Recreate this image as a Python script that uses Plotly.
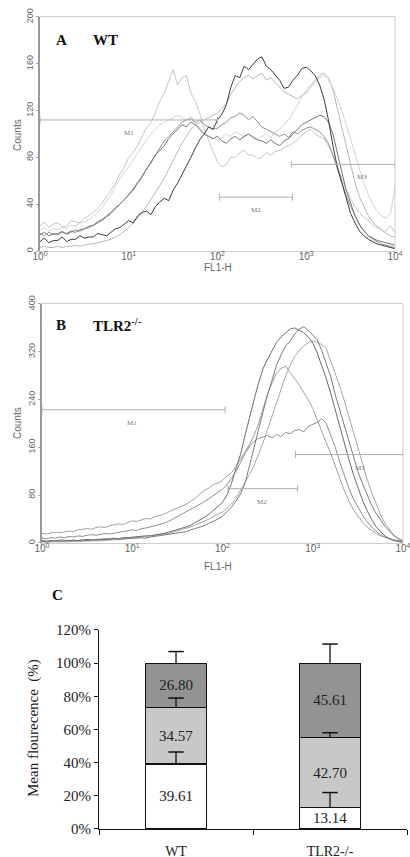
import math
import plotly.graph_objects as go

# ---------------- data ----------------
# FL1-H channel positions (log10 of fluorescence), shared by all histograms
fl1_exp = [0.00,0.05,0.10,0.15,0.20,0.25,0.30,0.35,0.40,0.45,
           0.50,0.55,0.60,0.65,0.70,0.75,0.80,0.85,0.90,0.95,
           1.00,1.05,1.10,1.15,1.20,1.25,1.30,1.35,1.40,1.45,
           1.50,1.55,1.60,1.65,1.70,1.75,1.80,1.85,1.90,1.95,
           2.00,2.05,2.10,2.15,2.20,2.25,2.30,2.35,2.40,2.45,
           2.50,2.55,2.60,2.65,2.70,2.75,2.80,2.85,2.90,2.95,
           3.00,3.05,3.10,3.15,3.20,3.25,3.30,3.35,3.40,3.45,
           3.50,3.55,3.60,3.65,3.70,3.75,3.80,3.85,3.90,3.95,
           4.00]

# Panel A (WT) counts
wt_1 = [8,11,7,9,9,12,8,10,10,13, 11,12,12,15,14,13,16,19,20,23, 26,24,30,33,34,31,38,42,45,43,
        52,58,65,72,80,88,95,100,106,104, 112,117,125,140,150,148,158,155,160,164,
        166,158,155,150,146,139,140,146,150,156, 157,154,150,142,130,112,90,72,58,44,
        32,24,17,13,10,8,6,5,4,3, 2]
wt_2 = [22,25,20,23,24,21,21,26,25,24, 28,30,33,36,41,46,52,58,66,72, 80,84,90,98,105,110,118,128,135,145,
        155,142,148,150,135,128,118,104,95,85, 76,72,74,80,80,84,86,82,82,79,
        80,84,82,85,86,88,90,92,95,99, 102,104,100,98,96,90,82,72,62,52,
        45,38,33,29,26,22,20,18,17,22, 15]
wt_3 = [3,4,3,3,4,3,4,4,5,4, 5,6,6,7,8,9,10,12,14,17, 20,24,28,33,38,44,50,56,62,70,
        78,85,92,98,104,108,110,112,114,116, 118,122,126,134,140,145,148,150,147,150,
        152,146,148,144,140,136,134,132,130,133, 135,140,145,150,152,148,138,122,104,88,
        72,58,46,38,30,25,21,18,15,13, 12]
wt_4 = [15,13,16,14,15,17,14,16,18,17, 19,20,22,24,26,29,32,36,40,44, 48,52,58,63,70,75,82,88,94,98,
        102,106,110,112,113,110,112,108,106,104, 105,108,110,114,115,118,116,112,115,110,
        106,104,102,100,98,100,97,102,100,103, 105,106,104,102,98,92,82,70,58,47,
        38,30,23,17,13,10,8,6,5,4, 3]
wt_5 = [14,16,13,15,14,16,15,17,16,18, 19,21,22,25,27,30,33,37,40,44, 48,53,58,64,70,76,82,86,90,96,
        100,104,108,106,110,108,104,100,98,96, 98,94,92,96,98,95,98,100,97,95,
        94,92,95,92,90,94,96,100,104,108, 110,112,114,116,115,110,100,85,68,52,
        40,30,22,17,13,11,9,8,7,6, 5]
wt_6 = [18,20,17,19,18,20,19,22,21,24, 25,27,30,33,37,42,48,55,62,68, 72,78,84,90,95,100,104,108,110,112,
        114,116,114,112,115,110,105,100,98,96, 95,97,100,98,102,100,97,100,98,96,
        98,100,97,102,104,108,112,118,125,132, 138,142,146,148,150,146,140,130,120,108,
        95,82,70,58,48,40,34,30,28,32, 55]

# Panel B (TLR2-/-) counts
ko_1 = [3,2,3,4,3,3,4,3,4,5, 4,5,5,6,5,6,7,6,8,8, 7,8,9,8,10,11,12,13,14,15,
        16,18,19,22,24,27,29,33,36,40, 45,52,60,70,82,100,130,160,195,220,
        248,275,298,315,330,338,350,358,362,356, 348,340,322,300,278,248,222,195,170,142,
        120,100,82,64,50,38,28,20,12,7, 4]
ko_2 = [16,15,17,18,17,19,20,19,22,23, 24,23,26,27,26,29,30,32,31,34, 37,36,39,41,40,44,46,48,52,55,
        58,62,65,70,75,82,88,92,98,100, 105,112,118,128,140,152,165,180,200,225,
        250,268,285,292,296,285,275,265,252,240, 225,205,185,168,150,128,108,88,70,56,
        45,35,27,21,16,12,9,7,5,4, 3]
ko_3 = [8,7,9,8,10,9,11,10,12,11, 13,14,13,15,16,15,17,18,19,20, 22,21,24,25,27,28,31,33,36,40,
        44,48,52,56,60,64,69,74,80,85, 90,98,108,120,135,150,162,170,175,178,
        180,176,182,178,185,183,188,190,186,195, 198,202,208,200,180,160,135,112,92,74,
        60,47,36,27,20,14,10,7,5,3, 2]
ko_4 = [2,1,2,2,1,2,2,3,2,3, 3,4,3,4,4,5,5,6,6,7, 8,8,9,10,11,12,13,14,16,18,
        20,22,24,27,30,33,36,40,44,48, 52,58,65,75,88,100,115,130,148,168,
        190,212,235,258,280,298,312,322,330,335, 338,336,332,325,305,285,262,238,212,185,
        158,132,108,86,66,48,33,22,13,7, 3]
ko_5 = [4,3,4,3,5,4,4,5,4,5, 6,5,6,6,7,7,8,7,9,9, 10,10,11,12,12,13,15,16,18,20,
        22,24,27,30,34,38,43,48,55,62, 68,80,100,125,148,180,212,240,268,292,
        308,322,336,345,352,358,360,356,352,345, 335,318,298,275,250,222,195,165,140,115,
        92,72,55,40,28,19,12,7,4,2, 1]

# Gates (markers) M1-M3
gate_names = ["M1", "M2", "M3"]
wt_gate_start = [1, 105, 680]
wt_gate_end = [100, 700, 10000]
wt_gate_level = [112, 46, 74]
wt_gate_label_x = [10, 275, 4300]
ko_gate_start = [1, 115, 645]
ko_gate_end = [107, 680, 10000]
ko_gate_level = [223, 91, 148]
ko_gate_label_x = [10, 275, 3300]

# Panel C stacked bars
groups = ["WT", "TLR2-/-"]
m1_vals = [39.61, 13.14]
m2_vals = [34.57, 42.70]
m3_vals = [26.80, 45.61]
m1_err = [7.2, 9.0]
m2_err = [5.5, 3.0]
m3_err = [7.0, 11.5]
pct_ticks = [0, 20, 40, 60, 80, 100, 120]

# ---------------- figure ----------------
fl1 = [10 ** e for e in fl1_exp]
fig = go.Figure()

wt_series = [wt_3, wt_6, wt_2, wt_4, wt_5, wt_1]
wt_colors = ["#b8b8b8", "#d4d4d4", "#c6c6c6", "#939393", "#767676", "#3c3c3c"]
for ys, c in zip(wt_series, wt_colors):
    fig.add_trace(go.Scatter(x=fl1, y=ys, mode="lines", line=dict(color=c, width=1),
                             xaxis="x", yaxis="y", hoverinfo="skip"))

ko_series = [ko_2, ko_3, ko_4, ko_1, ko_5]
ko_colors = ["#a0a0a0", "#909090", "#a8a8a8", "#7c7c7c", "#6c6c6c"]
for ys, c in zip(ko_series, ko_colors):
    fig.add_trace(go.Scatter(x=fl1, y=ys, mode="lines", line=dict(color=c, width=1),
                             xaxis="x2", yaxis="y2", hoverinfo="skip"))

gate_font = dict(family="Liberation Serif", size=7, color="#777")
for xa, ya, st, en, lv, lx in [("x", "y", wt_gate_start, wt_gate_end, wt_gate_level, wt_gate_label_x),
                               ("x2", "y2", ko_gate_start, ko_gate_end, ko_gate_level, ko_gate_label_x)]:
    for name, s, e, l, tx in zip(gate_names, st, en, lv, lx):
        fig.add_trace(go.Scatter(x=[s, e], y=[l, l], mode="lines+markers",
                                 line=dict(color="#b0b0b0", width=1),
                                 marker=dict(symbol="line-ns-open", size=5, color="#b0b0b0",
                                             line=dict(color="#b0b0b0", width=1)),
                                 xaxis=xa, yaxis=ya, hoverinfo="skip"))
        fig.add_annotation(x=math.log10(tx), y=l, xref=xa, yref=ya, text=name,
                           showarrow=False, yshift=-13, xanchor="center", yanchor="middle",
                           font=gate_font)

# Panel C bars
seg_vals = [m1_vals, m2_vals, m3_vals]
seg_errs = [m1_err, m2_err, m3_err]
seg_colors = ["#ffffff", "#c8c8c8", "#939393"]
totals = [sum(v) for v in zip(*seg_vals)]
for vals, col in zip(seg_vals, seg_colors):
    fig.add_trace(go.Bar(x=groups, y=vals, width=0.4,
                         marker=dict(color=col, line=dict(color="#111", width=1.2)),
                         text=[f"{v:.2f}" for v in vals], textposition="inside",
                         insidetextanchor="middle", textangle=0, constraintext="none",
                         textfont=dict(family="Liberation Serif", size=15, color="#222"),
                         xaxis="x3", yaxis="y3", hoverinfo="skip"))
cum = [0.0, 0.0]
for vals, errs in zip(seg_vals, seg_errs):
    cum = [c + v / t * 100 for c, v, t in zip(cum, vals, totals)]
    ex, ey, tx, ty = [], [], [], []
    for g, c, e in zip(groups, cum, errs):
        ex += [g, g, None]
        ey += [c, c + e, None]
        tx.append(g)
        ty.append(c + e)
    fig.add_trace(go.Scatter(x=ex, y=ey, mode="lines", line=dict(color="#111", width=1.3),
                             xaxis="x3", yaxis="y3", hoverinfo="skip"))
    fig.add_trace(go.Scatter(x=tx, y=ty, mode="markers",
                             marker=dict(symbol="line-ew-open", size=11, color="#111",
                                         line=dict(color="#111", width=1.5)),
                             xaxis="x3", yaxis="y3", hoverinfo="skip"))

log_ticks = [1, 10, 100, 1000, 10000]
log_text = ["10<sup>0</sup>", "10<sup>1</sup>", "10<sup>2</sup>", "10<sup>3</sup>", "10<sup>4</sup>"]


def hist_x(domain, anchor):
    return dict(domain=domain, anchor=anchor, type="log", range=[0, 4], tickvals=log_ticks,
                ticktext=log_text, showline=True, linecolor="#cfcfcf", mirror=True,
                ticks="outside", ticklen=3, tickcolor="#aaa", showgrid=False, zeroline=False,
                automargin=False, ticklabelstandoff=-7, ticklabeloverflow="allow",
                tickfont=dict(family="Liberation Sans", size=10, color="#666"))


def hist_y(domain, anchor, top, step):
    return dict(domain=domain, anchor=anchor, range=[0, top], tickvals=list(range(0, top + 1, step)),
                tickangle=-90, showline=True, linecolor="#9a9a9a", linewidth=1.5,
                ticks="outside", ticklen=2, tickcolor="#aaa", showgrid=False, zeroline=False,
                automargin=False,
                tickfont=dict(family="Liberation Sans", size=9, color="#666"))


serif = "Liberation Serif"
fig.update_layout(
    width=410, height=857, margin=dict(l=0, r=0, t=0, b=0, autoexpand=False),
    paper_bgcolor="white", plot_bgcolor="white", showlegend=False,
    xaxis=hist_x([0.0976, 0.9634], "y"),
    yaxis=hist_y([0.7071, 0.9802], "x", 200, 40),
    xaxis2=hist_x([0.1024, 0.9829], "y2"),
    yaxis2=hist_y([0.3664, 0.6453], "x2", 400, 80),
    xaxis3=dict(domain=[0.2415, 0.9927], anchor="y3", type="category", tickson="boundaries",
                showline=True, linecolor="#111", linewidth=1, ticks="outside", ticklen=5,
                tickcolor="#111", showgrid=False, zeroline=False, ticklabelstandoff=9,
                automargin=False, ticklabeloverflow="allow",
                tickfont=dict(family=serif, size=14, color="#222")),
    yaxis3=dict(domain=[0.0327, 0.2649], anchor="x3", range=[0, 120], tickvals=pct_ticks,
                ticktext=[f"{t}%" for t in pct_ticks], showline=True, linecolor="#111",
                linewidth=1, ticks="outside", ticklen=4, tickcolor="#111", showgrid=False,
                zeroline=False, automargin=False,
                tickfont=dict(family=serif, size=15, color="#222")),
    barmode="stack", barnorm="percent",
)

# right border of histogram frames
for xr, yr in [("x domain", "y domain"), ("x2 domain", "y2 domain")]:
    fig.add_shape(type="line", xref=xr, yref=yr, x0=1, x1=1, y0=0, y1=1,
                  line=dict(color="#cfcfcf", width=1))


def pt(px, py):
    return px / 410, 1 - py / 857


lab = dict(family="Liberation Sans", size=10, color="#666")
for txt, px, py, ang in [("Counts", 17, 135, -90), ("FL1-H", 218, 267, 0),
                         ("Counts", 17, 423, -90), ("FL1-H", 218, 566, 0)]:
    x, y = pt(px, py)
    fig.add_annotation(x=x, y=y, xref="paper", yref="paper", text=txt, showarrow=False,
                       textangle=ang, xanchor="center", yanchor="middle", font=lab)

big = dict(family=serif, size=15, color="#111")
for txt, px, py, anchor in [("<b>A</b>", 61, 40, "center"), ("<b>WT</b>", 105, 40, "center"),
                            ("<b>B</b>", 61, 325, "center"), ("<b>TLR2<sup>-/-</sup></b>", 91, 325, "left"),
                            ("<b>C</b>", 57, 595, "center")]:
    x, y = pt(px, py)
    fig.add_annotation(x=x, y=y, xref="paper", yref="paper", text=txt, showarrow=False,
                       xanchor=anchor, yanchor="middle", font=big)

x, y = pt(33, 728)
fig.add_annotation(x=x, y=y, xref="paper", yref="paper", text="Mean flourecence  (%)",
                   showarrow=False, textangle=-90, xanchor="center", yanchor="middle",
                   font=dict(family=serif, size=15, color="#222"))

fig.write_html("out.html", config={"displayModeBar": False},
               post_script="document.body.style.margin='0';")
